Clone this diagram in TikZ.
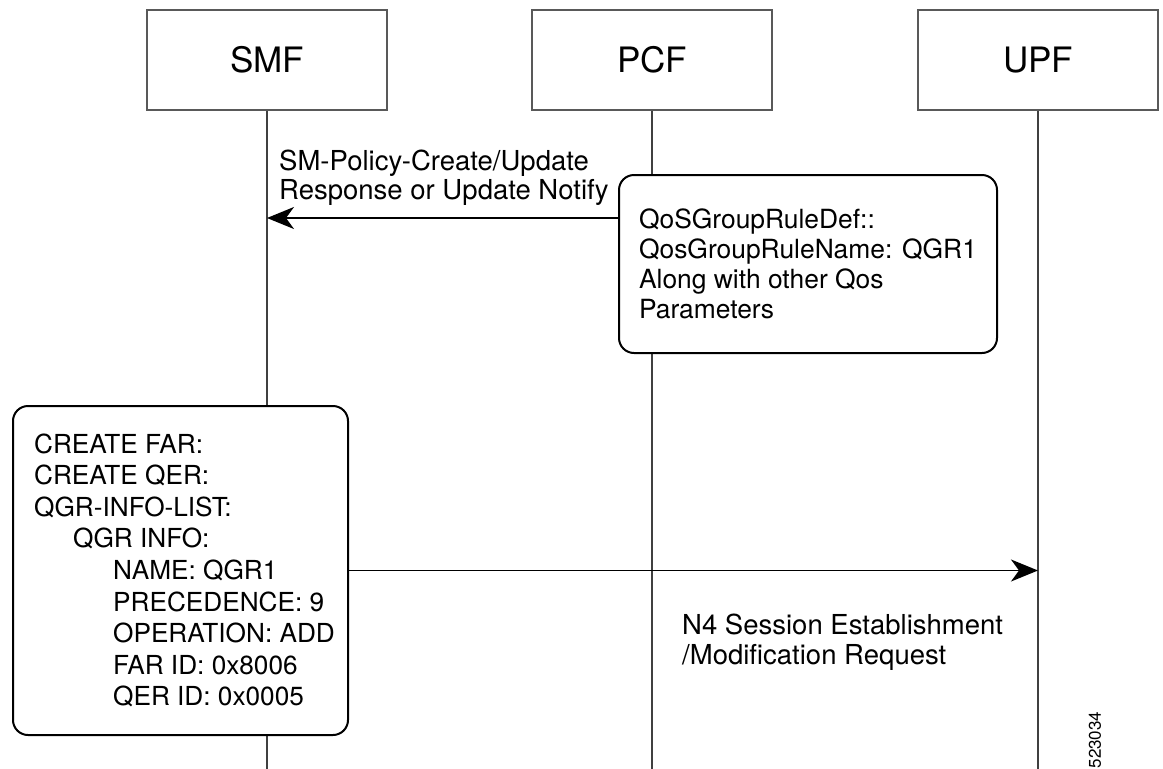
\documentclass[tikz,border=0pt]{standalone}
\usepackage{fontspec}
\setmainfont{TeX Gyre Heros}
\usetikzlibrary{arrows.meta}

\tikzset{
  entity/.style={draw=black!65, line width=1.2pt, minimum width=240pt, minimum height=100pt, inner sep=0pt, font=\fontsize{35}{38}\selectfont},
  lifeline/.style={draw=black!75, line width=1.4pt},
  notebox/.style={draw, fill=white, line width=2pt, rounded corners=15pt, align=left, inner sep=0pt},
  msg/.style={line width=1.8pt, -{Stealth[length=27pt,width=22pt,inset=8pt]}},
  msglbl/.style={inner sep=0pt, align=left, font=\fontsize{27.5}{29.5}\selectfont},
}

\begin{document}
\begin{tikzpicture}[x=1pt,y=1pt,yscale=-1,xscale=1]
        \useasboundingbox (0,0) rectangle (1163,769); %same size as the reference

        %Entities
        \node[entity] (smf) at (267,60) {SMF};
        \node[entity] (pcf) at (652,60) {PCF};
        \node[entity] (upf) at (1038,60) {UPF};

        %Lifelines
        \coordinate (smfend) at (267,769);
        \coordinate (pcfend) at (652,769);
        \coordinate (upfend) at (1038,769);
        \draw[lifeline] (smf.south) -- (smfend);
        \draw[lifeline] (pcf.south) -- (pcfend);
        \draw[lifeline] (upf.south) -- (upfend);

        %Note: QoS group rule
        \node[notebox, minimum width=378pt, minimum height=178pt, font=\fontsize{26.4}{30}\selectfont] (qosnote) at (808,264)
          {QoSGroupRuleDef::\\QosGroupRuleName: QGR1\\Along with other Qos\\Parameters};

        %Note: N4 rules
        \node[notebox, minimum width=335pt, minimum height=329pt, font=\fontsize{26.2}{31.6}\selectfont] (farnote) at (180.5,570.5)
          {\hspace*{8pt}CREATE FAR:\\\hspace*{8pt}CREATE QER:\\\hspace*{8pt}QGR-INFO-LIST:\\
           \hspace*{47pt}QGR INFO:\\
           \hspace*{87pt}NAME: QGR1\\
           \hspace*{87pt}PRECEDENCE: 9\\
           \hspace*{87pt}OPERATION: ADD\\
           \hspace*{87pt}FAR ID: 0x8006\\
           \hspace*{87pt}QER ID: 0x0005};

        %Messages
        \coordinate (smfq) at (267,218);
        \draw[msg] (qosnote.west |- smfq) -- (smfq);
        \draw[msg] (farnote.east) -- (farnote.east -| upfend);

        % Text Node
        \node[msglbl, anchor=south west] (polmsg) at ([shift={(12,-12)}]smfq)
          {SM-Policy-Create/Update\\Response or Update Notify};
        % Text Node
        \node[msglbl, anchor=north west] (n4msg) at (682,614)
          {N4 Session Establishment\\/Modification Request};
        % Text Node
        \node[inner sep=0pt, rotate=90, font=\fontsize{17}{17}\selectfont] (figid) at (1095,740) {523034};

\end{tikzpicture}
\end{document}
